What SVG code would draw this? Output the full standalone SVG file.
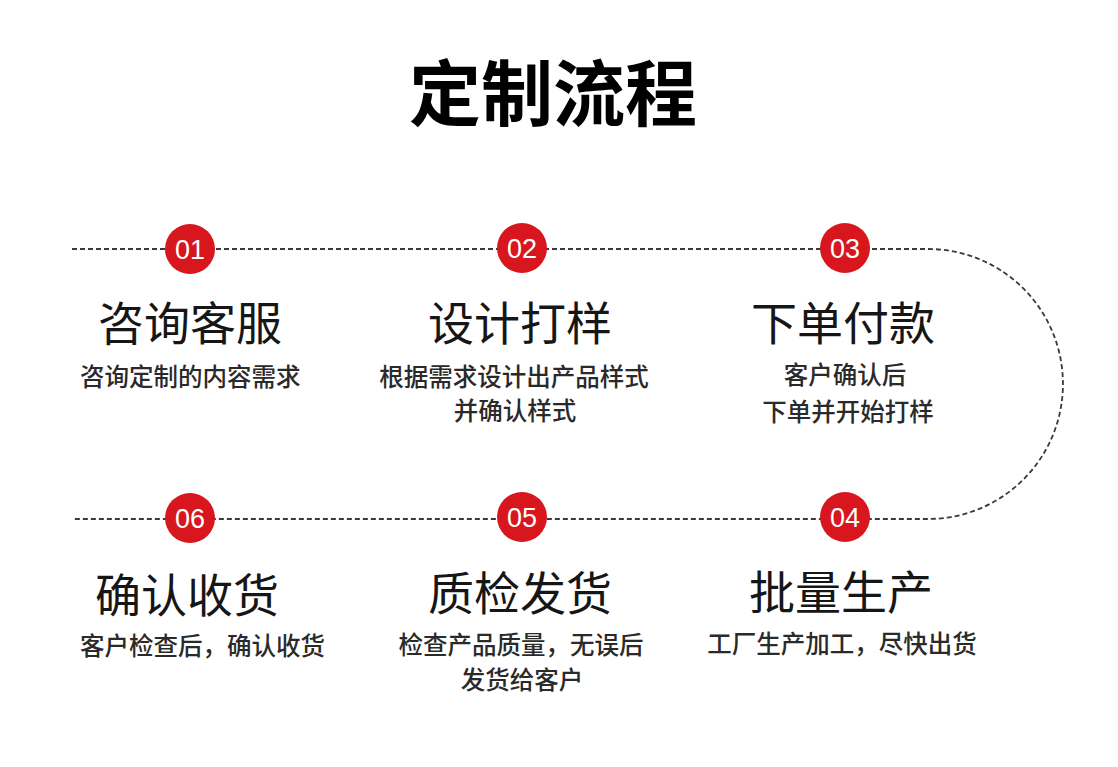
<svg xmlns="http://www.w3.org/2000/svg" width="1118" height="767" viewBox="0 0 1118 767">
<style>
.conn{fill:none;stroke:#3a3a3a;stroke-width:1.8;stroke-dasharray:5 3}
.dot{fill:#d8161d}
.num{fill:#fff;font-family:"Liberation Sans",Arial,sans-serif;font-size:27px;text-anchor:middle}
.ttl{fill:#161616;font-family:"Noto Sans CJK SC",sans-serif;font-size:46px;text-anchor:middle}
.sub{fill:#2a2a2a;font-family:"Noto Sans CJK SC",sans-serif;font-size:24.5px;font-weight:500;text-anchor:middle}
.subl{text-anchor:start}
.head{fill:#000;font-family:"Noto Sans CJK SC",sans-serif;font-size:72px;font-weight:bold;text-anchor:middle}
</style>
<rect width="1118" height="767" fill="#fff"/>
<text class="head" x="553" y="120">定制流程</text>
<g id="connectors">
<path class="conn" d="M72,249 H928 A135,135 0 0 1 928,519 H72"/>
</g>
<g id="step01">
<circle class="dot" cx="190" cy="249" r="25"/>
<text class="num" x="190" y="258.5">01</text>
<text class="ttl" x="190" y="340">咨询客服</text>
<text class="sub subl" x="80" y="386">咨询定制的内容需求</text>
</g>
<g id="step02">
<circle class="dot" cx="522" cy="248" r="25"/>
<text class="num" x="522" y="257.5">02</text>
<text class="ttl" x="520" y="340">设计打样</text>
<text class="sub" x="514" y="386">根据需求设计出产品样式</text>
<text class="sub" x="515" y="420">并确认样式</text>
</g>
<g id="step03">
<circle class="dot" cx="845" cy="248" r="25"/>
<text class="num" x="845" y="257.5">03</text>
<text class="ttl" x="843" y="340">下单付款</text>
<text class="sub" x="845" y="384">客户确认后</text>
<text class="sub" x="848" y="421">下单并开始打样</text>
</g>
<g id="step04">
<circle class="dot" cx="845" cy="517" r="25"/>
<text class="num" x="845" y="526.5">04</text>
<text class="ttl" x="841" y="609">批量生产</text>
<text class="sub" x="842" y="653">工厂生产加工，尽快出货</text>
</g>
<g id="step05">
<circle class="dot" cx="522" cy="517" r="25"/>
<text class="num" x="522" y="526.5">05</text>
<text class="ttl" x="520" y="610">质检发货</text>
<text class="sub" x="521" y="654">检查产品质量，无误后</text>
<text class="sub" x="522" y="689">发货给客户</text>
</g>
<g id="step06">
<circle class="dot" cx="190" cy="518" r="25"/>
<text class="num" x="190" y="527.5">06</text>
<text class="ttl" x="187" y="612">确认收货</text>
<text class="sub subl" x="80" y="655">客户检查后，确认收货</text>
</g>
</svg>
